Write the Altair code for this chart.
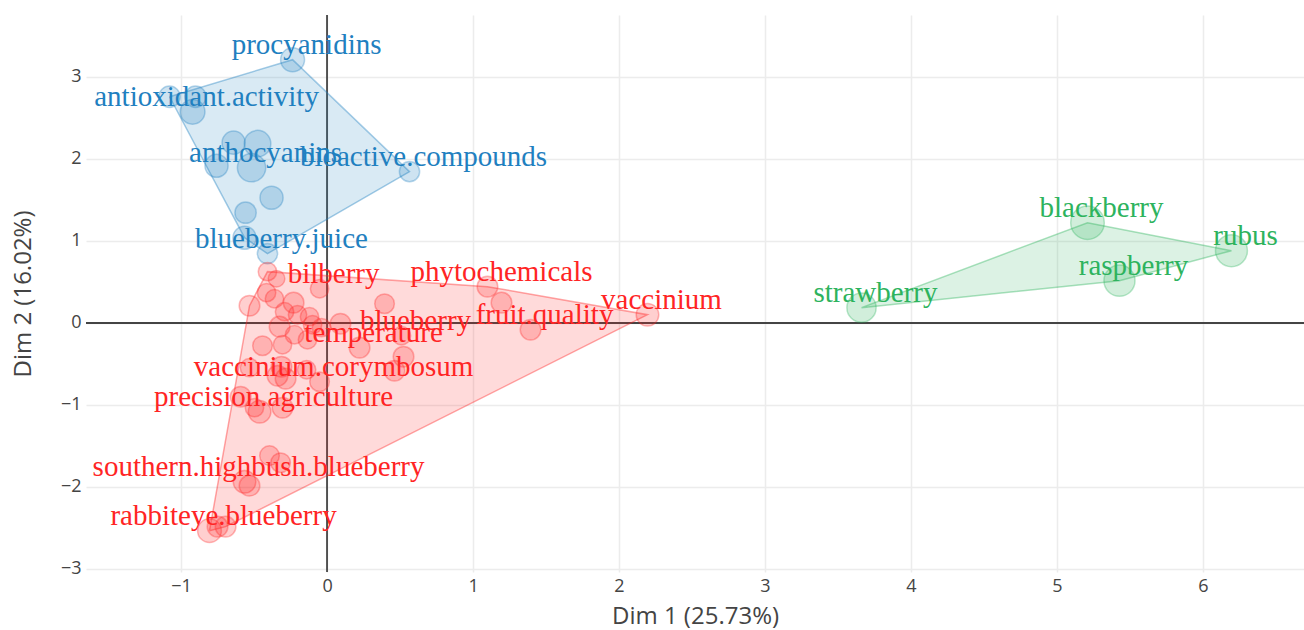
import altair as alt
import pandas as pd

# ---- Cluster 1 (blue): antioxidant / anthocyanin terms ----
c1_terms = ["procyanidins", "", "", "antioxidant.activity", "", "", "", "anthocyanins",
            "", "", "", "blueberry.juice", "bioactive.compounds"]
c1_x = [-0.236, -1.079, -0.901, -0.921, -0.640, -0.476, -0.757, -0.517,
        -0.380, -0.558, -0.565, -0.408, 0.565]
c1_y = [3.211, 2.759, 2.759, 2.576, 2.199, 2.187, 1.918, 1.894,
        1.528, 1.345, 1.040, 0.845, 1.845]
c1_w = [7.3, 5.8, 5.8, 7.8, 6.8, 9.0, 6.8, 10.2, 6.8, 5.8, 6.8, 5.2, 5.2]

# ---- Cluster 2 (red): blueberry production terms ----
c2_terms = ["", "", "bilberry", "", "", "", "", "", "", "",
            "", "", "", "", "", "", "", "", "", "temperature",
            "", "", "", "", "", "vaccinium.corymbosum", "", "", "", "precision.agriculture",
            "", "", "", "", "southern.highbush.blueberry", "", "rabbiteye.blueberry", "", "", "phytochemicals",
            "", "fruit.quality", "vaccinium", "blueberry"]
c2_x = [-0.408, -0.346, -0.051, -0.414, -0.360, -0.531, -0.229, -0.291, 0.394, -0.325,
        -0.202, -0.120, -0.099, -0.038, 0.092, -0.223, -0.442, -0.305, -0.134, 0.223,
        -0.312, -0.339, -0.284, -0.531, -0.140, -0.051, 0.524, 0.462, -0.592, -0.462,
        -0.497, -0.305, -0.394, -0.318, -0.565, -0.531, -0.805, -0.750, -0.695, 1.099,
        1.195, 1.394, 2.195, 0.510]
c2_y = [0.626, 0.540, 0.418, 0.370, 0.296, 0.211, 0.248, 0.138, 0.235, -0.045,
        0.101, 0.077, -0.021, -0.057, -0.009, -0.143, -0.277, -0.265, -0.204, -0.301,
        -0.533, -0.643, -0.679, -0.545, -0.570, -0.716, -0.411, -0.582, -0.899, -1.082,
        -1.033, -1.033, -1.618, -1.704, -1.936, -1.984, -2.533, -2.484, -2.484, 0.443,
        0.248, -0.082, 0.101, -0.155]
c2_w = [4.3, 3.5, 4.3, 4.3, 4.3, 5.4, 5.4, 4.3, 4.9, 5.4,
        4.3, 4.3, 4.3, 4.3, 5.4, 4.3, 4.9, 4.3, 4.3, 5.4,
        5.4, 5.4, 5.4, 4.3, 4.3, 4.9, 5.4, 5.4, 5.4, 6.5,
        4.3, 5.4, 4.9, 4.9, 6.5, 5.4, 7.2, 5.4, 5.4, 5.4,
        5.4, 5.4, 6.5, 4.3]

# ---- Cluster 3 (green): berry crops ----
c3_terms = ["strawberry", "blackberry", "raspberry", "rubus"]
c3_x = [3.661, 5.209, 5.428, 6.195]
c3_y = [0.187, 1.223, 0.516, 0.882]
c3_w = [10.9, 14.4, 12.3, 13.0]

clusters = ["1", "2", "3"]
palette = ["#1f80c0", "#ff2424", "#2db35d"]

x_ticks = [-1, 0, 1, 2, 3, 4, 5, 6]
y_ticks = [-3, -2, -1, 0, 1, 2, 3]
x_domain = [-1.651, 6.692]
y_domain = [-3.037, 3.756]


def convex_hull(pts):
    pts = sorted(set(pts))
    if len(pts) < 3:
        return pts

    def cross(o, a, b):
        return (a[0] - o[0]) * (b[1] - o[1]) - (a[1] - o[1]) * (b[0] - o[0])

    lower, upper = [], []
    for p in pts:
        while len(lower) >= 2 and cross(lower[-2], lower[-1], p) <= 0:
            lower.pop()
        lower.append(p)
    for p in reversed(pts):
        while len(upper) >= 2 and cross(upper[-2], upper[-1], p) <= 0:
            upper.pop()
        upper.append(p)
    return lower[:-1] + upper[:-1]


groups = [
    ("1", c1_terms, c1_x, c1_y, c1_w),
    ("2", c2_terms, c2_x, c2_y, c2_w),
    ("3", c3_terms, c3_x, c3_y, c3_w),
]

point_rows, hull_rows = [], []
for cl, terms, xs, ys, ws in groups:
    for t, x, y, w in zip(terms, xs, ys, ws):
        point_rows.append({"cluster": cl, "term": t, "x": x, "y": y, "w": w})
    hull = convex_hull(list(zip(xs, ys)))
    hull = hull + hull[:1]
    for i, (hx, hy) in enumerate(hull):
        hull_rows.append({"cluster": cl, "order": i, "x": hx, "y": hy})

points = pd.DataFrame(point_rows)
hulls = pd.DataFrame(hull_rows)
labels = points[points["term"] != ""]

xs = alt.Scale(domain=x_domain, nice=False, zero=False)
ys = alt.Scale(domain=y_domain, nice=False, zero=False)
cs = alt.Scale(domain=clusters, range=palette)

axis_common = dict(
    grid=True, gridColor="#ececec", gridWidth=1.5, domain=False, ticks=False,
    labelFont="Open Sans", labelFontSize=18, labelColor="#444",
    titleFont="Open Sans", titleFontSize=24, titleColor="#444", titleFontWeight="normal",
)
x_axis = alt.Axis(values=x_ticks, title="Dim 1 (25.73%)", labelPadding=5, titlePadding=9, **axis_common)
y_axis = alt.Axis(values=y_ticks, title="Dim 2 (16.02%)", labelPadding=5, titlePadding=25, **axis_common)

base_x = alt.X("x:Q", scale=xs, axis=x_axis)
base_y = alt.Y("y:Q", scale=ys, axis=y_axis)

zero_v = alt.Chart(pd.DataFrame({"x": [0]})).mark_rule(color="#444", strokeWidth=1.8).encode(
    x=alt.X("x:Q", scale=xs, axis=x_axis))
zero_h = alt.Chart(pd.DataFrame({"y": [0]})).mark_rule(color="#444", strokeWidth=1.8).encode(
    y=alt.Y("y:Q", scale=ys, axis=y_axis))

hull_layers = []
for cl, col in zip(clusters, palette):
    hull_layers.append(
        alt.Chart(hulls[hulls["cluster"] == cl]).mark_line(
            color=col, fill=col, fillOpacity=0.17, strokeOpacity=0.4, strokeWidth=1.5
        ).encode(x=base_x, y=base_y, order="order:Q")
    )

dots = alt.Chart(points).mark_circle(fillOpacity=0.22, strokeOpacity=0.32, strokeWidth=1.5).encode(
    x=base_x, y=base_y,
    color=alt.Color("cluster:N", scale=cs, legend=None),
    stroke=alt.Stroke("cluster:N", scale=cs, legend=None),
    size=alt.Size("w:Q", scale=alt.Scale(domain=[0, 15], range=[0, 1178], zero=True), legend=None),
)

text = alt.Chart(labels).mark_text(
    font="Liberation Serif", fontSize=29, align="center", baseline="middle", dx=14, dy=-15
).encode(
    x=base_x, y=base_y, text="term:N",
    color=alt.Color("cluster:N", scale=cs, legend=None),
)

chart = alt.layer(zero_v, zero_h, *hull_layers, dots, text).properties(
    width=1218, height=557,
    autosize=alt.AutoSizeParams(type="none"),
    padding={"left": 86, "top": 15, "right": 0, "bottom": 58},
    background="white",
).configure_view(stroke=None)

chart.save("out.html", embed_options={"renderer": "svg", "actions": False})
